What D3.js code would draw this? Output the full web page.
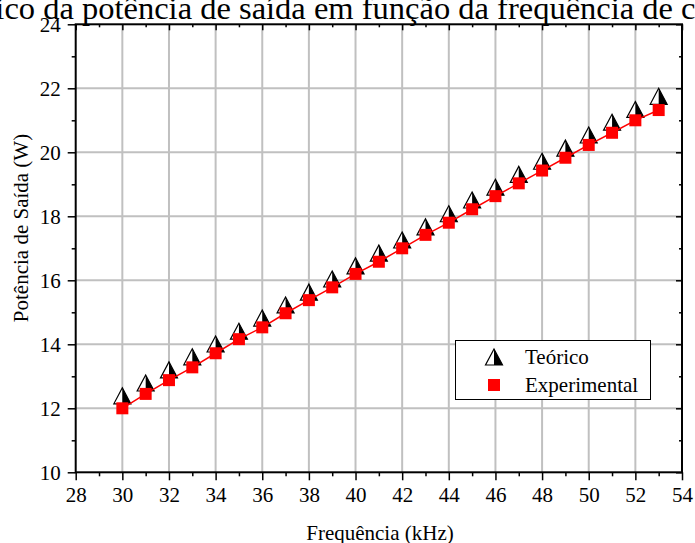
<!DOCTYPE html>
<meta charset="utf-8">
<style>
    body { margin: 0; background: #fff; }
    .grid line { stroke: #c0c0c0; stroke-width: 2; }
    .ax path { display: none; }
    .ax line { stroke: #000; stroke-width: 1.5; }
</style>
<body>
<script src="https://cdnjs.cloudflare.com/ajax/libs/d3/7.8.5/d3.min.js"></script>
<script>
    // frequencies in kHz
    let freq = [30, 31, 32, 33, 34, 35, 36, 37, 38, 39, 40, 41, 42, 43, 44, 45, 46, 47, 48, 49, 50, 51, 52, 53];
    // output power (W)
    let teorico = [12.39, 12.79, 13.20, 13.61, 14.01, 14.41, 14.82, 15.23, 15.63, 16.04, 16.45, 16.85,
        17.26, 17.67, 18.08, 18.51, 18.91, 19.31, 19.72, 20.13, 20.54, 20.94, 21.34, 21.75];
    let experimental = [12.00, 12.45, 12.88, 13.28, 13.72, 14.16, 14.53, 14.97, 15.38, 15.78, 16.20, 16.58,
        17.00, 17.42, 17.80, 18.22, 18.63, 19.03, 19.43, 19.83, 20.23, 20.61, 21.00, 21.32];
    let xMajor = [28, 30, 32, 34, 36, 38, 40, 42, 44, 46, 48, 50, 52, 54];
    let xMinor = [29, 31, 33, 35, 37, 39, 41, 43, 45, 47, 49, 51, 53];
    let yMajor = [10, 12, 14, 16, 18, 20, 22, 24];
    let yMinor = [11, 13, 15, 17, 19, 21, 23];

    let W = 695, H = 543;
    let pL = 75.7, pR = 682, pT = 24.3, pB = 472.3;
    let serif = "'Liberation Serif', 'Times New Roman', serif";

    let svg = d3.select("body").append("svg")
        .attr("width", W)
        .attr("height", H)
        .style("font-family", serif);

    let x = d3.scaleLinear().domain([28, 54]).range([pL, pR]);
    let y = d3.scaleLinear().domain([10, 24]).range([pB, pT]);

    // title (cut off at the top in the original)
    svg.append("text")
        .attr("x", (pL + pR) / 2)
        .attr("y", 19)
        .attr("text-anchor", "middle")
        .style("font-family", serif)
        .style("font-size", "32.5px")
        .text("Gráfico da potência de saída em função da frequência de comutação");

    // grid
    let grid = svg.append("g").attr("class", "grid");
    grid.selectAll(".gx")
        .data(xMajor.filter(function(d) { return d > 28 && d < 54; }))
        .enter().append("line")
        .attr("x1", function(d) { return x(d); })
        .attr("x2", function(d) { return x(d); })
        .attr("y1", pT)
        .attr("y2", pB);
    grid.selectAll(".gy")
        .data(yMajor.filter(function(d) { return d > 10 && d < 24; }))
        .enter().append("line")
        .attr("x1", pL)
        .attr("x2", pR)
        .attr("y1", function(d) { return y(d); })
        .attr("y2", function(d) { return y(d); });

    // axes
    function axis(a, tr, vals, size, fmt) {
        let g = svg.append("g")
            .attr("class", "ax")
            .attr("transform", tr)
            .call(a.tickValues(vals).tickSize(size).tickPadding(7).tickFormat(fmt));
        g.attr("font-family", null).attr("font-size", null);
        g.selectAll("text")
            .style("font-family", serif)
            .style("font-size", "21px")
            .attr("fill", "#000");
        return g;
    }
    let f = d3.format("d");
    let none = function() { return ""; };
    axis(d3.axisBottom(x), "translate(0," + pB + ")", xMajor, 8, f);
    axis(d3.axisBottom(x), "translate(0," + pB + ")", xMinor, 4, none);
    axis(d3.axisLeft(y), "translate(" + pL + ",0)", yMajor, 8, f);
    axis(d3.axisLeft(y), "translate(" + pL + ",0)", yMinor, 4, none);
    // mirrored ticks, inward
    axis(d3.axisBottom(x), "translate(0," + pT + ")", xMajor, 6, none);
    axis(d3.axisBottom(x), "translate(0," + pT + ")", xMinor, 3, none);
    axis(d3.axisLeft(y), "translate(" + pR + ",0)", yMajor, 6, none);
    axis(d3.axisLeft(y), "translate(" + pR + ",0)", yMinor, 3, none);

    svg.append("rect")
        .attr("x", pL)
        .attr("y", pT)
        .attr("width", pR - pL)
        .attr("height", pB - pT)
        .attr("fill", "none")
        .attr("stroke", "#000")
        .attr("stroke-width", 2);

    // axis titles
    svg.append("text")
        .attr("x", 380)
        .attr("y", 540)
        .attr("text-anchor", "middle")
        .style("font-family", serif)
        .style("font-size", "21px")
        .text("Frequência (kHz)");
    svg.append("text")
        .attr("transform", "translate(28," + 228 + ") rotate(-90)")
        .attr("text-anchor", "middle")
        .style("font-family", serif)
        .style("font-size", "21px")
        .text("Potência de Saída (W)");

    // symbols
    let tw = 17, th = 16;
    function triangle(g, cx, cy) {
        g.append("path")
            .attr("d", "M" + cx + "," + (cy - th / 2) + "L" + (cx - tw / 2) + "," + (cy + th / 2) + "L" + cx + "," + (cy + th / 2) + "Z")
            .attr("fill", "#fff");
        g.append("path")
            .attr("d", "M" + cx + "," + (cy - th / 2) + "L" + cx + "," + (cy + th / 2) + "L" + (cx + tw / 2) + "," + (cy + th / 2) + "Z")
            .attr("fill", "#000");
        g.append("path")
            .attr("d", "M" + cx + "," + (cy - th / 2) + "L" + (cx - tw / 2) + "," + (cy + th / 2) + "L" + (cx + tw / 2) + "," + (cy + th / 2) + "Z")
            .attr("fill", "none")
            .attr("stroke", "#000")
            .attr("stroke-width", 1.2);
    }
    let sq = 12;

    let tri = svg.append("g");
    freq.forEach(function(d, i) { triangle(tri, x(d), y(teorico[i])); });

    let line = d3.line()
        .x(function(d, i) { return x(freq[i]); })
        .y(function(d) { return y(d); });
    svg.append("path")
        .datum(experimental)
        .attr("d", line)
        .attr("fill", "none")
        .attr("stroke", "#ff0000")
        .attr("stroke-width", 1.5);

    svg.append("g").selectAll("rect")
        .data(experimental)
        .enter().append("rect")
        .attr("x", function(d, i) { return x(freq[i]) - sq / 2; })
        .attr("y", function(d) { return y(d) - sq / 2; })
        .attr("width", sq)
        .attr("height", sq)
        .attr("fill", "#ff0000");

    // legend
    let lg = svg.append("g");
    lg.append("rect")
        .attr("x", 455.5)
        .attr("y", 340.5)
        .attr("width", 195)
        .attr("height", 59)
        .attr("fill", "#fff")
        .attr("stroke", "#000")
        .attr("stroke-width", 1);
    triangle(lg, 494, 357);
    lg.append("rect")
        .attr("x", 494 - sq / 2)
        .attr("y", 385 - sq / 2)
        .attr("width", sq)
        .attr("height", sq)
        .attr("fill", "#ff0000");
    lg.append("text").attr("x", 525).attr("y", 364).style("font-family", serif).style("font-size", "21px").text("Teórico");
    lg.append("text").attr("x", 525).attr("y", 392).style("font-family", serif).style("font-size", "21px").text("Experimental");
</script>
</body>
